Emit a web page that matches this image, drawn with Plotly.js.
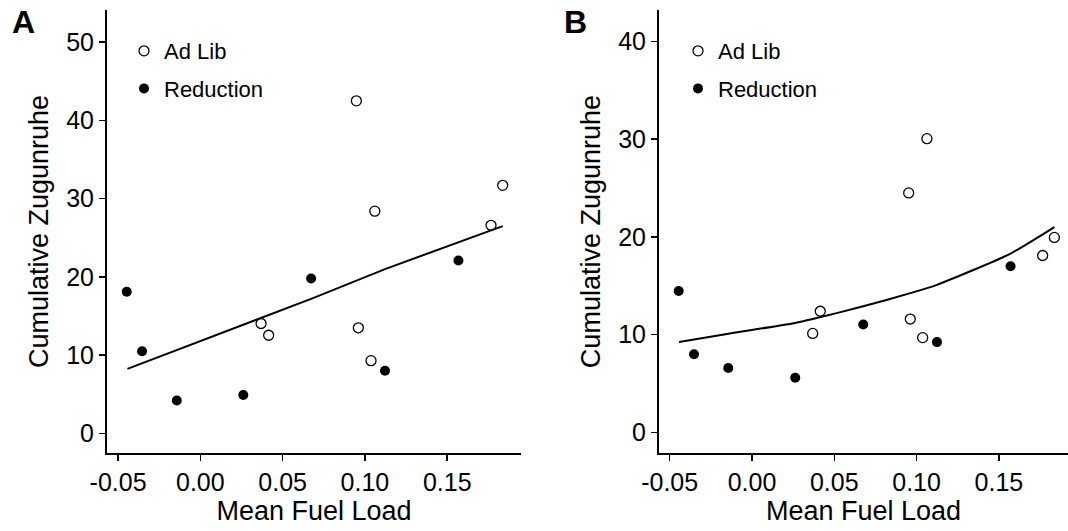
<!DOCTYPE html>
<html>
<head>
<meta charset="utf-8">
<script src="https://cdn.plot.ly/plotly-3.0.1.min.js"></script>
<style>html,body{margin:0;padding:0;background:#fff;}#plot{width:1068px;height:531px;}</style>
</head>
<body>
<div id="plot"></div>
<script>
// Panel A data
const adLibX = [0.0369, 0.0415, 0.0948, 0.0960, 0.1037, 0.1060, 0.1766, 0.1837];
const adLibA = [14.05, 12.55, 42.5, 13.5, 9.3, 28.4, 26.6, 31.7];
const reductionX = [-0.0447, -0.0354, -0.0143, 0.0261, 0.0673, 0.1122, 0.1568];
const reductionA = [18.1, 10.5, 4.2, 4.9, 19.8, 8.0, 22.1];
const fitXA = [-0.0443, 0.0261, 0.0673, 0.1122, 0.1837];
const fitYA = [8.25, 13.9, 17.2, 21.0, 26.5];

// Panel B data
const adLibXB = [0.0369, 0.0415, 0.0952, 0.0962, 0.1037, 0.1063, 0.1766, 0.1837];
const adLibB = [10.13, 12.4, 24.5, 11.6, 9.7, 30.05, 18.1, 19.95];
const reductionXB = [-0.0445, -0.0352, -0.0144, 0.0263, 0.0676, 0.1124, 0.1571];
const reductionB = [14.46, 8.0, 6.6, 5.6, 11.05, 9.24, 17.0];
const fitXB = [-0.0443, -0.0352, -0.0144, 0.0263, 0.0369, 0.0676, 0.0952, 0.1124, 0.1571, 0.1837];
const fitYB = [9.25, 9.5, 10.1, 11.2, 11.6, 12.9, 14.2, 15.1, 18.3, 21.0];

const xTicks = [-0.05, 0.00, 0.05, 0.10, 0.15];
const xTickText = ['-0.05', '0.00', '0.05', '0.10', '0.15'];
const yTicksA = [0, 10, 20, 30, 40, 50];
const yTicksB = [0, 10, 20, 30, 40];

const FONT = 'Liberation Sans, Arial, sans-serif';
const openMarker = {symbol: 'circle-open', size: 10, color: '#000', line: {width: 1.3, color: '#000'}};
const filledMarker = {symbol: 'circle', size: 10, color: '#000'};

const traces = [
  {x: adLibX, y: adLibA, type: 'scatter', mode: 'markers', name: 'Ad Lib', marker: openMarker, xaxis: 'x', yaxis: 'y', legend: 'legend', legendgroup: 'a1'},
  {x: reductionX, y: reductionA, type: 'scatter', mode: 'markers', name: 'Reduction', marker: filledMarker, xaxis: 'x', yaxis: 'y', legend: 'legend', legendgroup: 'a2'},
  {x: fitXA, y: fitYA, type: 'scatter', mode: 'lines', line: {color: '#000', width: 2}, showlegend: false, xaxis: 'x', yaxis: 'y'},
  {x: adLibXB, y: adLibB, type: 'scatter', mode: 'markers', name: 'Ad Lib', marker: openMarker, xaxis: 'x2', yaxis: 'y2', legend: 'legend2', legendgroup: 'b1'},
  {x: reductionXB, y: reductionB, type: 'scatter', mode: 'markers', name: 'Reduction', marker: filledMarker, xaxis: 'x2', yaxis: 'y2', legend: 'legend2', legendgroup: 'b2'},
  {x: fitXB, y: fitYB, type: 'scatter', mode: 'lines', line: {color: '#000', width: 2, shape: 'spline', smoothing: 0.6}, showlegend: false, xaxis: 'x2', yaxis: 'y2'}
];

function xaxis(domain, range) {
  return {domain: domain, range: range, showgrid: false, zeroline: false, showline: true, linecolor: '#000', linewidth: 2,
    ticks: 'outside', ticklen: 6, tickwidth: 1.5, tickcolor: '#000', tickvals: xTicks, ticktext: xTickText,
    tickfont: {family: FONT, size: 25, color: '#000'},
    title: {text: 'Mean Fuel Load', font: {family: FONT, size: 27, color: '#000'}, standoff: 0}};
}
function yaxis(domain, range, ticks, anchor) {
  return {domain: domain, range: range, anchor: anchor, showgrid: false, zeroline: false, showline: true, linecolor: '#000', linewidth: 2,
    ticks: 'outside', ticklen: 6, tickwidth: 1.5, tickcolor: '#000', tickvals: ticks,
    tickfont: {family: FONT, size: 25, color: '#000'},
    title: {text: 'Cumulative Zugunruhe', font: {family: FONT, size: 27, color: '#000'}, standoff: 10}};
}
const yDom = [0.1469, 0.981];
const layout = {
  width: 1068, height: 531,
  margin: {l: 0, r: 0, t: 0, b: 0},
  paper_bgcolor: '#fff', plot_bgcolor: '#fff',
  font: {family: FONT, color: '#000'},
  xaxis: Object.assign(xaxis([0.1002, 0.4878], [-0.0567, 0.1948]), {anchor: 'y'}),
  yaxis: yaxis(yDom, [-2.5, 54.1], yTicksA, 'x'),
  xaxis2: Object.assign(xaxis([0.617, 1.0], [-0.0565, 0.192]), {anchor: 'y2'}),
  yaxis2: yaxis(yDom, [-2.1, 43.2], yTicksB, 'x2'),
  legend: {x: 124/1068, y: 1 - 30/531, xanchor: 'left', yanchor: 'top', bgcolor: 'rgba(0,0,0,0)', font: {family: FONT, size: 22, color: '#000'}, traceorder: 'grouped', tracegroupgap: 6},
  legend2: {x: 678/1068, y: 1 - 30/531, xanchor: 'left', yanchor: 'top', bgcolor: 'rgba(0,0,0,0)', font: {family: FONT, size: 22, color: '#000'}, traceorder: 'grouped', tracegroupgap: 6},
  annotations: [
    {text: '<b>A</b>', x: 23/1068, y: 1 - 22/531, xref: 'paper', yref: 'paper', showarrow: false, font: {family: FONT, size: 32, color: '#000'}, xanchor: 'center', yanchor: 'middle'},
    {text: '<b>B</b>', x: 575/1068, y: 1 - 22/531, xref: 'paper', yref: 'paper', showarrow: false, font: {family: FONT, size: 32, color: '#000'}, xanchor: 'center', yanchor: 'middle'}
  ],
  showlegend: true
};
Plotly.newPlot('plot', traces, layout, {displayModeBar: false, staticPlot: true});
</script>
</body>
</html>
